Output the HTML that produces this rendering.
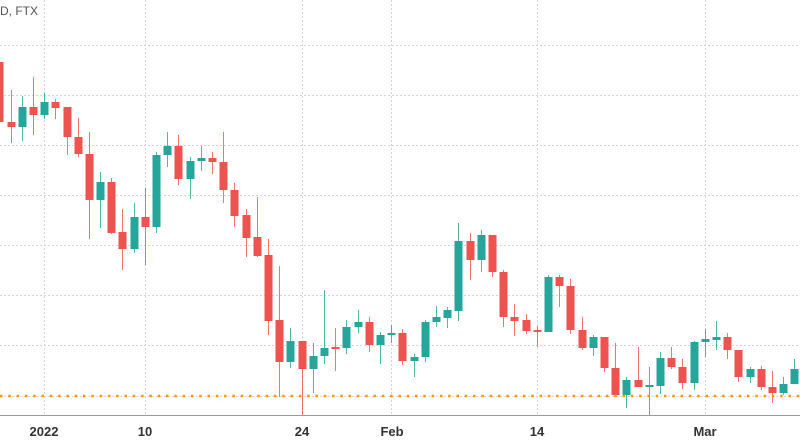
<!DOCTYPE html>
<html><head><meta charset="utf-8"><style>
html,body{margin:0;padding:0;background:#fff;width:800px;height:445px;overflow:hidden}
svg{display:block}
text{font-family:"Liberation Sans",sans-serif}
</style></head><body>
<svg id="s" width="800" height="445" xmlns="http://www.w3.org/2000/svg">
<rect width="800" height="445" fill="#fff"/>
<g stroke="#d6d6d6" stroke-width="1" stroke-dasharray="2,2">
<line x1="0" y1="45.5" x2="800" y2="45.5"/>
<line x1="0" y1="95.5" x2="800" y2="95.5"/>
<line x1="0" y1="145.5" x2="800" y2="145.5"/>
<line x1="0" y1="195.5" x2="800" y2="195.5"/>
<line x1="0" y1="245.5" x2="800" y2="245.5"/>
<line x1="0" y1="295.5" x2="800" y2="295.5"/>
<line x1="0" y1="345.5" x2="800" y2="345.5"/>
<line x1="0" y1="396.5" x2="800" y2="396.5"/>
<line x1="44.5" y1="0" x2="44.5" y2="415"/>
<line x1="145.5" y1="0" x2="145.5" y2="415"/>
<line x1="302.5" y1="0" x2="302.5" y2="415"/>
<line x1="391.5" y1="0" x2="391.5" y2="415"/>
<line x1="537.5" y1="0" x2="537.5" y2="415"/>
<line x1="705.5" y1="0" x2="705.5" y2="415"/>
</g>
<g id="c"></g>
<line x1="0" y1="396" x2="800" y2="396" stroke="#ff9800" stroke-width="2.5" stroke-dasharray="2.5,5.8"/>
<line x1="0" y1="415.5" x2="800" y2="415.5" stroke="#9a9a9a" stroke-width="1"/>
<text x="0" y="15" font-size="12" fill="#555">D, FTX</text>
<g font-size="13" fill="#333" text-anchor="middle" font-weight="bold">
<text x="44" y="436">2022</text>
<text x="145" y="436">10</text>
<text x="302" y="436">24</text>
<text x="392" y="436">Feb</text>
<text x="537" y="436">14</text>
<text x="705" y="436">Mar</text>
</g>
</svg>
<script>
var d=[
[-1,'r',62,122,55,135],[11,'r',122,127,90,143],[22,'g',107,127,96,141],[33,'r',107,115,77,135],
[44,'g',102,115,93,119],[55,'r',102,108,99,119],[67,'r',107,137,107,155],[78,'r',137,154,118,157],
[89,'r',154,200,132,239],[100,'g',182,200,172,228],[111,'r',182,233,178,234],[122,'r',232,249,209,270],
[134,'g',217,249,203,253],[145,'r',217,227,188,265],[156,'g',155,227,152,233],[167,'g',146,155,132,167],
[178,'r',146,179,135,185],[190,'g',161,179,157,199],[201,'g',158,161,146,171],[212,'r',158,162,152,174],
[223,'r',162,190,132,203],[234,'r',190,216,183,227],[246,'r',215,238,209,257],[257,'r',237,256,197,257],
[268,'r',255,321,239,335],[279,'r',320,362,266,397],[290,'g',341,362,328,368],[302,'r',341,369,341,415],
[313,'g',356,369,343,393],[324,'g',348,356,290,364],[335,'r',347,349,328,371],[346,'g',327,348,320,354],
[358,'g',322,327,310,333],[369,'r',322,345,317,352],[380,'g',335,345,332,364],[391,'g',333,335,325,343],
[402,'r',333,361,329,365],[414,'g',357,361,354,377],[425,'g',322,357,320,362],[436,'g',317,322,306,327],
[447,'g',310,318,307,328],[458,'g',241,311,223,321],[470,'r',241,260,233,280],[481,'g',235,260,230,272],
[492,'r',235,272,235,277],[503,'r',272,317,270,327],[514,'r',317,321,304,336],[526,'r',320,331,314,334],
[537,'r',330,332,326,347],[548,'g',277,332,275,332],[559,'r',277,286,275,307],[570,'r',286,330,279,334],
[582,'r',330,348,317,350],[593,'g',337,348,335,356],[604,'r',337,368,337,372],[615,'r',368,395,343,395],
[626,'g',380,395,377,408],[638,'r',380,387,347,387],[649,'g',385,387,367,415],[660,'g',358,386,352,394],
[671,'r',358,367,347,369],[682,'r',367,383,359,389],[694,'g',342,383,341,390],[705,'g',339,342,329,357],
[716,'g',337,340,321,350],[727,'r',337,350,333,359],[738,'r',350,377,350,382],[750,'g',369,377,367,383],
[761,'r',369,387,366,390],[772,'r',387,393,371,403],[783,'g',384,393,377,395],[794,'g',369,384,359,384]];
var h='';
d.forEach(function(c){var col=c[1]=='r'?'#ef5350':'#26a69a';var x=c[0];
h+='<line x1="'+(x+.5)+'" y1="'+c[4]+'" x2="'+(x+.5)+'" y2="'+c[5]+'" stroke="'+col+'" stroke-width="1" opacity="0.8"/>';
h+='<rect x="'+(x-3.5)+'" y="'+c[2]+'" width="8" height="'+Math.max(c[3]-c[2],1.5)+'" fill="'+col+'"/>';});
document.getElementById('c').innerHTML=h;
</script>
</body></html>
